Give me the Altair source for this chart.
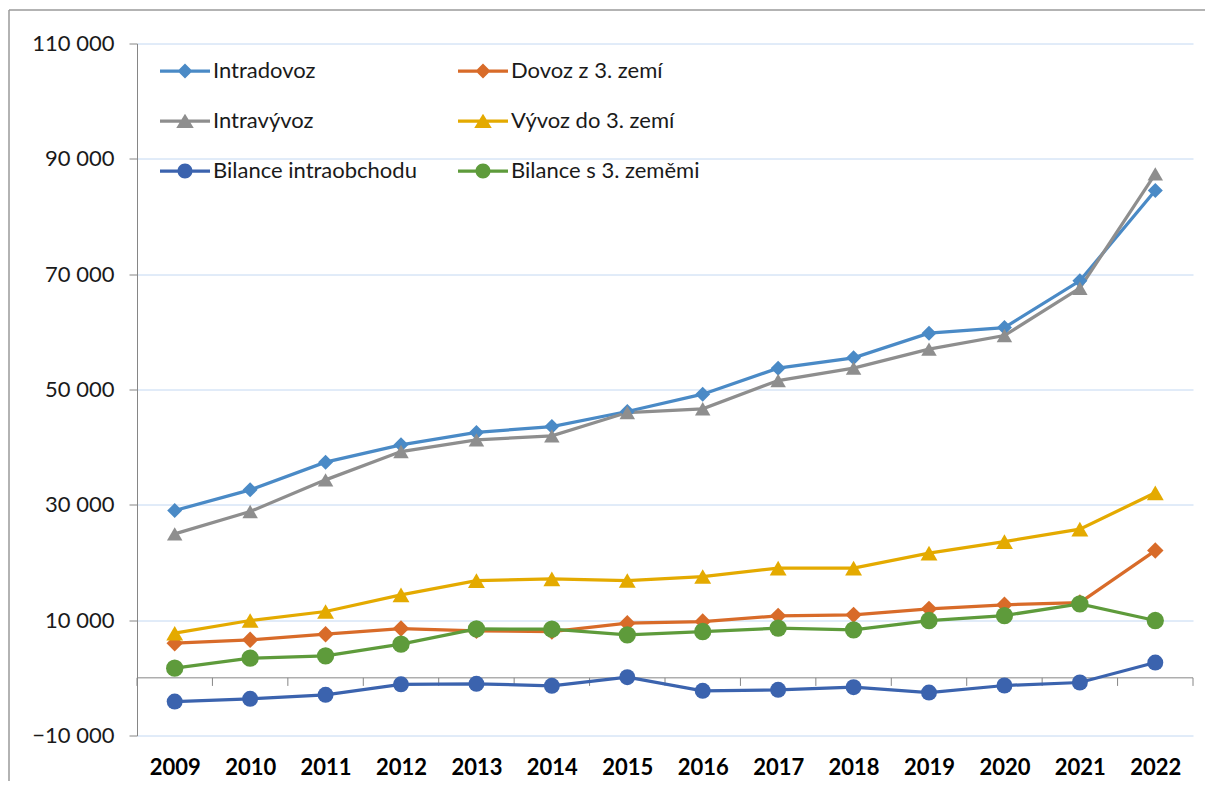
import altair as alt
import pandas as pd

years = [2009, 2010, 2011, 2012, 2013, 2014, 2015, 2016, 2017, 2018, 2019, 2020, 2021, 2022]

# legend fills column by column: left column first, then right column
series_names = ["Intradovoz", "Intravývoz", "Bilance intraobchodu",
                "Dovoz z 3. zemí", "Vývoz do 3. zemí", "Bilance s 3. zeměmi"]

intradovoz = [29010, 32600, 37400, 40400, 42550, 43580, 46180, 49190, 53700, 55490, 59770, 60740, 68840, 84500]
intravyvoz = [24970, 28840, 34330, 39240, 41270, 41960, 46000, 46650, 51550, 53700, 57000, 59360, 67570, 87390]
bilance_intra = [-4110, -3640, -2950, -1130, -1040, -1390, 120, -2250, -2080, -1620, -2550, -1330, -810, 2650]
dovoz_3 = [6010, 6590, 7570, 8550, 8150, 8030, 9480, 9760, 10750, 10920, 11960, 12660, 13060, 22070]
vyvoz_3 = [7740, 9940, 11500, 14390, 16850, 17170, 16870, 17570, 19020, 19020, 21620, 23630, 25790, 32080]
bilance_3 = [1680, 3410, 3810, 5840, 8470, 8440, 7460, 8030, 8620, 8320, 9940, 10800, 12830, 9940]

y_tick_values = [-10000, 10000, 30000, 50000, 70000, 90000, 110000]

values_by_series = [intradovoz, intravyvoz, bilance_intra, dovoz_3, vyvoz_3, bilance_3]
rows = []
for name, vals in zip(series_names, values_by_series):
    for yr, v in zip(years, vals):
        rows.append({"year": yr, "series": name, "value": v})
df = pd.DataFrame(rows)

boundaries = pd.DataFrame({"b": [y - 0.5 for y in years] + [years[-1] + 0.5]})

colors = ["#4A8AC6", "#8E8E8E", "#3B63AE", "#D86B29", "#E4AA00", "#5E9B3B"]
marker_shapes = ["diamond", "triangle-up", "circle", "diamond", "triangle-up", "circle"]
marker_sizes = [225, 300, 330, 256, 300, 230]

bar = "M-1,-0.065 L1,-0.065 L1,0.065 L-1,0.065 Z "
dia = "M-0.3,0 L0,-0.3 L0.3,0 L0,0.3 Z"
tri = "M0,-0.29 L0.35,0.28 L-0.35,0.28 Z"
cir = "M-0.3,0 A0.3,0.3 0 1,1 0.3,0 A0.3,0.3 0 1,1 -0.3,0 Z"
legend_paths = [bar + dia, bar + tri, bar + cir, bar + dia, bar + tri, bar + cir]

FONT = "Lato"
FS = 22

x_enc = alt.X("year:Q",
              scale=alt.Scale(domain=[2008.5, 2022.5], nice=False, zero=False),
              axis=alt.Axis(values=years, format="d", labelFontWeight="bold", labelFontSize=FS,
                            labelFont=FONT, labelColor="#000000", ticks=False, domain=False,
                            grid=False, labelPadding=22, title=None))
y_enc = alt.Y("value:Q",
              scale=alt.Scale(domain=[-10000, 110000], nice=False, zero=False),
              axis=alt.Axis(values=y_tick_values,
                            labelExpr="replace(format(datum.value, ','), ',', ' ')",
                            grid=True, gridColor="#C3D8F2", gridWidth=1,
                            domainColor="#868686", tickColor="#868686", tickSize=8,
                            labelPadding=15, labelFontSize=FS, labelFont=FONT,
                            labelColor="#1a1a1a", title=None))

color_scale = alt.Scale(domain=series_names, range=colors)

base = alt.Chart(df)

lines = base.mark_line(strokeWidth=3.25).encode(
    x=x_enc, y=y_enc,
    color=alt.Color("series:N", scale=color_scale, legend=None),
)

points = base.mark_point(filled=True, opacity=1, strokeWidth=0).encode(
    x=x_enc, y=y_enc,
    color=alt.Color("series:N", scale=color_scale, legend=None),
    shape=alt.Shape("series:N", scale=alt.Scale(domain=series_names, range=marker_shapes), legend=None),
    size=alt.Size("series:O", scale=alt.Scale(domain=series_names, range=marker_sizes), legend=None),
)

leg = alt.Legend(title=None, orient="none", legendX=23, legendY=2.5, columns=2,
                 columnPadding=41, rowPadding=14, symbolSize=2500, labelFontSize=FS,
                 labelFont=FONT, labelColor="#1a1a1a", labelOffset=3, symbolStrokeWidth=0,
                 symbolOpacity=1, padding=0, labelLimit=400)

legend_layer = base.transform_filter("false").mark_point(filled=True).encode(
    x=x_enc, y=y_enc,
    color=alt.Color("series:N", scale=color_scale, legend=leg),
    shape=alt.Shape("series:N", scale=alt.Scale(domain=series_names, range=legend_paths), legend=leg),
)

zero_line = alt.Chart(pd.DataFrame({"v": [0]})).mark_rule(color="#868686", strokeWidth=1).encode(
    y=alt.Y("v:Q", scale=alt.Scale(domain=[-10000, 110000], nice=False, zero=False))
)

ticks = alt.Chart(boundaries).mark_rule(color="#868686", strokeWidth=1).encode(
    x=alt.X("b:Q", scale=alt.Scale(domain=[2008.5, 2022.5], nice=False, zero=False)),
    y=alt.datum(0),
    y2=alt.datum(-1400),
)

frame_top = alt.Chart(pd.DataFrame({"a": [0]})).mark_rule(color="#9a9a9a", strokeWidth=1.5).encode(
    x=alt.value(-128), x2=alt.value(1080), y=alt.value(-33.5)
)
frame_left = alt.Chart(pd.DataFrame({"a": [0]})).mark_rule(color="#9a9a9a", strokeWidth=1.5).encode(
    x=alt.value(-128), y=alt.value(-33.5), y2=alt.value(760)
)

chart = alt.layer(
    zero_line, ticks, lines, points, legend_layer, frame_top, frame_left
).resolve_scale(
    color="independent", shape="independent"
).properties(
    width=1056, height=692,
    autosize=alt.AutoSizeParams(type="none"),
    padding={"left": 129, "top": 35.5, "right": 12, "bottom": 45.5},
    background="white",
).configure_view(stroke=None)

chart.save("out.html", embed_options={"renderer": "svg", "actions": False})
